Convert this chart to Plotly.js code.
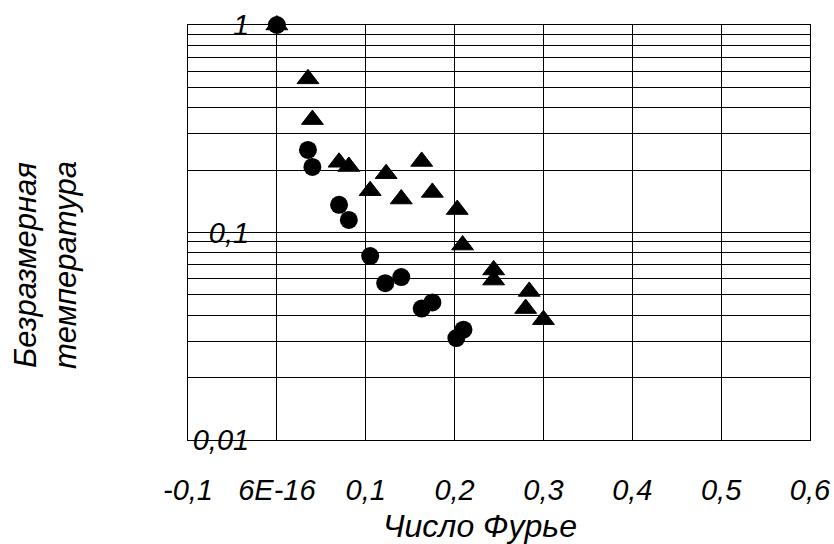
<!DOCTYPE html>
<html>
<head>
<meta charset="utf-8">
<script src="https://cdn.plot.ly/plotly-3.0.1.min.js"></script>
<style>html,body{margin:0;padding:0;background:#fff;}#chart{width:834px;height:544px;}</style>
</head>
<body>
<div id="chart"></div>
<script>
// Data
const fourierCircles = [0, 0.035, 0.04, 0.07, 0.081, 0.105, 0.122, 0.14, 0.163, 0.175, 0.202, 0.21];
const tempCircles    = [1.0, 0.25, 0.207, 0.136, 0.115, 0.077, 0.057, 0.061, 0.043, 0.046, 0.031, 0.034];
const fourierTriangles = [0, 0.035, 0.04, 0.07, 0.081, 0.105, 0.123, 0.14, 0.163, 0.175, 0.203, 0.209, 0.244, 0.244, 0.284, 0.28, 0.3];
const tempTriangles    = [1.0, 0.55, 0.35, 0.218, 0.208, 0.159, 0.192, 0.145, 0.22, 0.156, 0.129, 0.087, 0.066, 0.059, 0.052, 0.043, 0.038];
const xTickVals = [-0.1, 0, 0.1, 0.2, 0.3, 0.4, 0.5, 0.6];
const xTickText = ["-0,1", "6E-16", "0,1", "0,2", "0,3", "0,4", "0,5", "0,6"];
const yTickVals = [0.01, 0.1, 1];
const yTickText = ["0,01", "0,1", "1"];
const xTitle = "Число Фурье";
const yTitle = "Безразмерная<br>температура";

const FONT = "Liberation Sans, Arial, sans-serif";

const traces = [
  {
    x: fourierTriangles, y: tempTriangles, type: "scatter", mode: "markers",
    marker: {symbol: "triangle-up", size: 19, color: "#000", line: {color: "#000", width: 1}},
    cliponaxis: false, showlegend: false
  },
  {
    x: fourierCircles, y: tempCircles, type: "scatter", mode: "markers",
    marker: {symbol: "circle", size: 18, color: "#000"},
    cliponaxis: false, showlegend: false
  }
];

const layout = {
  width: 834, height: 544,
  margin: {l: 188, r: 24, t: 25, b: 104},
  paper_bgcolor: "#fff", plot_bgcolor: "#fff",
  showlegend: false,
  xaxis: {
    range: [-0.1, 0.6],
    tickvals: xTickVals, ticktext: xTickText,
    showgrid: true, gridcolor: "#000", gridwidth: 1,
    zeroline: false,
    showline: true, linecolor: "#000", linewidth: 1, mirror: true,
    ticks: "", ticklabelstandoff: 24,
    tickfont: {family: FONT, size: 29, color: "#000", style: "italic"}
  },
  yaxis: {
    type: "log",
    range: [-2, 0],
    tickvals: yTickVals, ticktext: yTickText,
    showgrid: true, gridcolor: "#000", gridwidth: 1,
    minor: {dtick: "D1", showgrid: true, gridcolor: "#000", gridwidth: 1, ticks: ""},
    zeroline: false,
    showline: true, linecolor: "#000", linewidth: 1, mirror: true,
    ticks: "", ticklabelstandoff: -68,
    tickfont: {family: FONT, size: 29, color: "#000", style: "italic"}
  },
  annotations: [
    {
      text: xTitle, xref: "paper", yref: "paper",
      x: (480 - 188) / 622, y: -(526 - 440) / 415,
      xanchor: "center", yanchor: "middle", showarrow: false,
      font: {family: FONT, size: 32, color: "#000", style: "italic"}
    },
    {
      text: yTitle, xref: "paper", yref: "paper",
      x: (45 - 188) / 622, y: 1 - (265 - 25) / 415,
      xanchor: "center", yanchor: "middle", showarrow: false, textangle: -90,
      font: {family: FONT, size: 31, color: "#000", style: "italic"}
    }
  ]
};

Plotly.newPlot("chart", traces, layout, {staticPlot: true});
</script>
</body>
</html>
